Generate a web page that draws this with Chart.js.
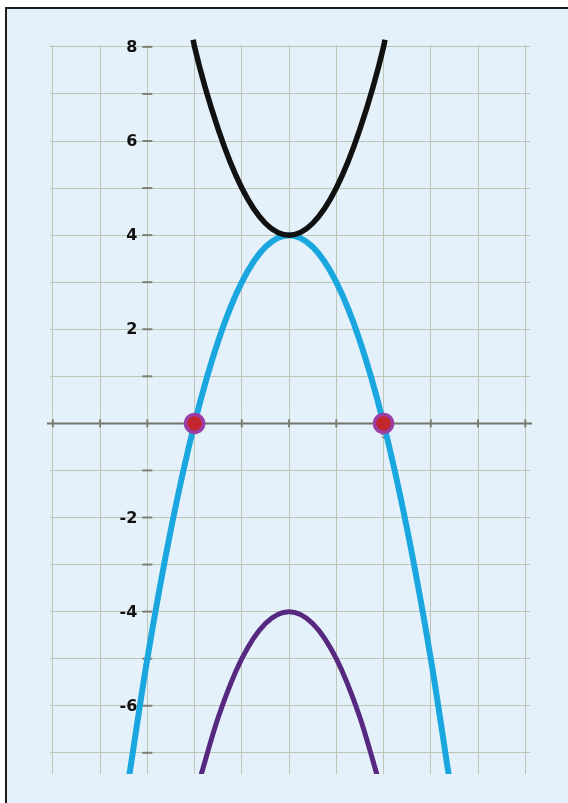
<!DOCTYPE html>
<html>
<head>
<meta charset="utf-8">
<script src="https://cdn.jsdelivr.net/npm/chart.js@4.4.1/dist/chart.umd.min.js"></script>
<style>
    html, body { margin: 0; padding: 0; background: #fff; overflow: hidden; }
    #frame {
        position: absolute; left: 5px; top: 7px; width: 561px; height: 794px;
        border-left: 2px solid #1c1c1c; border-top: 2px solid #1c1c1c;
        background: #e4f0fa;
    }
    #wrap { position: absolute; left: 0; top: 0; width: 568px; height: 803px; }
</style>
</head>
<body>
<div id="frame"></div>
<div id="wrap"><canvas id="myChart"></canvas></div>
<script>
// values
var yTickLabels = [8, 6, 4, 2, -2, -4, -6];
var xTickLabels = [5];

var blueX = [-0.4, 0, 0.5, 1, 1.5, 2, 2.5, 3, 3.5, 4, 4.5, 5, 5.5, 6, 6.4];
var blueY = [-7.6, -5, -2.25, 0, 1.75, 3, 3.75, 4, 3.75, 3, 1.75, 0, -2.25, -5, -7.6];

var blackX = [0.97, 1, 1.5, 2, 2.5, 3, 3.5, 4, 4.5, 5, 5.03];
var blackY = [8.15, 8, 6.25, 5, 4.25, 4, 4.25, 5, 6.25, 8, 8.15];

var purpleX = [1.1, 1.5, 2, 2.5, 3, 3.5, 4, 4.5, 4.9];
var purpleY = [-7.6, -6.25, -5, -4.25, -4, -4.25, -5, -6.25, -7.6];

var rootX = [1, 5];
var rootY = [0, 0];

function pts(xs, ys) {
    return xs.map(function(x, i) { return { x: x, y: ys[i] }; });
}

var gridColor = '#bfc5b6';
var axisColor = '#70766a';

var axisMarks = {
    id: 'axisMarks',
    beforeDatasetsDraw: function(chart) {
        var ctx = chart.ctx;
        var xs = chart.scales.x, ys = chart.scales.y;
        var x0 = xs.getPixelForValue(0), y0 = ys.getPixelForValue(0);
        var area = chart.chartArea;
        ctx.save();
        // x axis
        ctx.strokeStyle = axisColor;
        ctx.lineWidth = 2;
        ctx.beginPath();
        ctx.moveTo(area.left - 3, y0);
        ctx.lineTo(area.right + 2, y0);
        ctx.stroke();
        // tick dashes on the y axis
        ctx.strokeStyle = '#7c8072';
        ys.ticks.forEach(function(t) {
            if (t.value === 0) return;
            var p = ys.getPixelForValue(t.value);
            ctx.beginPath();
            ctx.moveTo(x0 - 5, p);
            ctx.lineTo(x0 + 5, p);
            ctx.stroke();
        });
        // tick dashes on the x axis
        xs.ticks.forEach(function(t) {
            var p = xs.getPixelForValue(t.value);
            ctx.beginPath();
            ctx.moveTo(p, y0 - 4);
            ctx.lineTo(p, y0 + 4);
            ctx.stroke();
        });
        // tick labels
        ctx.fillStyle = '#111';
        ctx.font = 'bold 16px "DejaVu Sans", sans-serif';
        ctx.textAlign = 'right';
        ctx.textBaseline = 'middle';
        yTickLabels.forEach(function(v) {
            ctx.fillText(String(v), x0 - 10, ys.getPixelForValue(v) + 1);
        });
        ctx.fillStyle = '#6b6a4a';
        ctx.font = '9px "Liberation Sans", Arial, sans-serif';
        ctx.textAlign = 'center';
        ctx.textBaseline = 'top';
        xTickLabels.forEach(function(v) {
            ctx.fillText(String(v), xs.getPixelForValue(v), y0 + 8);
        });
        ctx.restore();
    }
};

var context = document.getElementById('myChart').getContext('2d');
var myChart = new Chart(context, {
    type: 'line',
    data: {
        datasets: [{
            data: pts(blueX, blueY),
            borderColor: '#1aa7e0',
            borderWidth: 6,
            cubicInterpolationMode: 'monotone',
            pointRadius: 0,
            order: 4
        }, {
            data: pts(blackX, blackY),
            borderColor: '#111111',
            borderWidth: 5.5,
            cubicInterpolationMode: 'monotone',
            pointRadius: 0,
            clip: { left: 0, right: 0, top: 8, bottom: 0 },
            order: 3
        }, {
            data: pts(purpleX, purpleY),
            borderColor: '#57287f',
            borderWidth: 5,
            cubicInterpolationMode: 'monotone',
            pointRadius: 0,
            order: 2
        }, {
            data: pts(rootX, rootY),
            showLine: false,
            pointRadius: 9,
            pointBorderWidth: 3.5,
            pointBackgroundColor: '#c4262e',
            pointBorderColor: '#9a3ea6',
            order: 1
        }]
    },
    options: {
        responsive: true,
        maintainAspectRatio: false,
        animation: false,
        layout: { padding: { left: 50, right: 38, top: 45, bottom: 29 } },
        plugins: {
            legend: { display: false },
            tooltip: { enabled: false }
        },
        scales: {
            x: {
                type: 'linear',
                min: -2.06,
                max: 8.1,
                ticks: { display: false, stepSize: 1, includeBounds: false },
                grid: { color: gridColor, lineWidth: 1, drawTicks: false },
                border: { display: false }
            },
            y: {
                type: 'linear',
                min: -7.45,
                max: 8.04,
                ticks: { display: false, stepSize: 1, includeBounds: false },
                grid: { color: gridColor, lineWidth: 1, drawTicks: false },
                border: { display: false }
            }
        }
    },
    plugins: [axisMarks]
});
</script>
</body>
</html>
